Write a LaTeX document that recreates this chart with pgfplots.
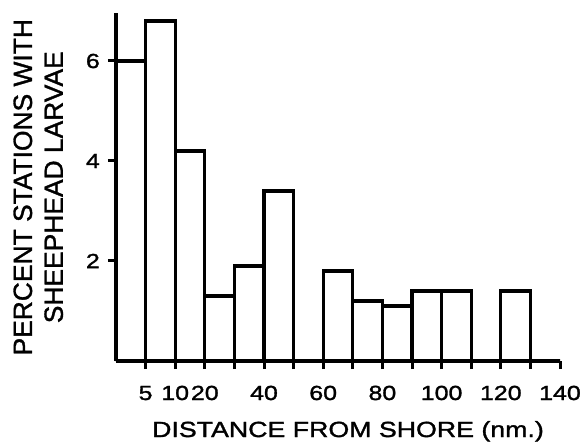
\documentclass[border=0pt]{standalone}
\usepackage{fontspec}
\setmainfont{Liberation Sans}[FakeBold=1.2]
\newfontfamily\tickfont[FakeStretch=1.22, FakeBold=1.5]{Liberation Sans}
\usepackage{pgfplots}
\pgfplotsset{compat=1.18}

\begin{document}
\begin{tikzpicture}
% page = 585 x 442 bp, axis origin sits at (116,361) px of the reference
\path[use as bounding box] (-116bp,-81bp) rectangle (469bp,361bp);
\begin{axis}[
  scale only axis,
  width=444bp, height=347.5bp,
  xmin=0, xmax=15,
  ymin=0, ymax=6.95,
  axis lines=left,
  axis line style={-, line width=3.2bp},
  axis on top,
  tick align=outside,
  major tick length=8bp,
  tick style={black, line width=3bp},
  xtick={1,...,14},
  xticklabels={5,10,20,,40,,60,,80,,100,,120,},
  extra x ticks={15},
  extra x tick labels={140},
  ytick={2,4,6},
  yticklabels={2,4,6},
  xticklabel style={font=\tickfont\fontsize{20.5}{23}\selectfont, anchor=base, yshift=-31bp},
  yticklabel style={font=\tickfont\fontsize{20.5}{23}\selectfont, anchor=east, inner sep=0pt, xshift=-8bp},
  xlabel={\tickfont\fontsize{22}{25}\selectfont DISTANCE FROM SHORE (nm.)},
  xlabel style={at={(axis description cs:0.5225,-0.2187)}, anchor=base},
  ylabel={PERCENT STATIONS WITH\\SHEEPHEAD LARVAE},
  ylabel style={at={(axis description cs:-0.175,0.5)}, anchor=center,
                align=center, font=\fontsize{26.5}{31}\selectfont},
]
\addplot[ybar interval, fill=white, draw=black, line width=3.2bp] coordinates {
  (0,6.0) (1,6.8) (2,4.2) (3,1.3) (4,1.9) (5,3.4) (6,0) (7,1.8)
  (8,1.2) (9,1.1) (10,1.4) (11,1.4) (12,0) (13,1.4) (14,0) (15,0)
};
\end{axis}
\end{tikzpicture}
\end{document}
